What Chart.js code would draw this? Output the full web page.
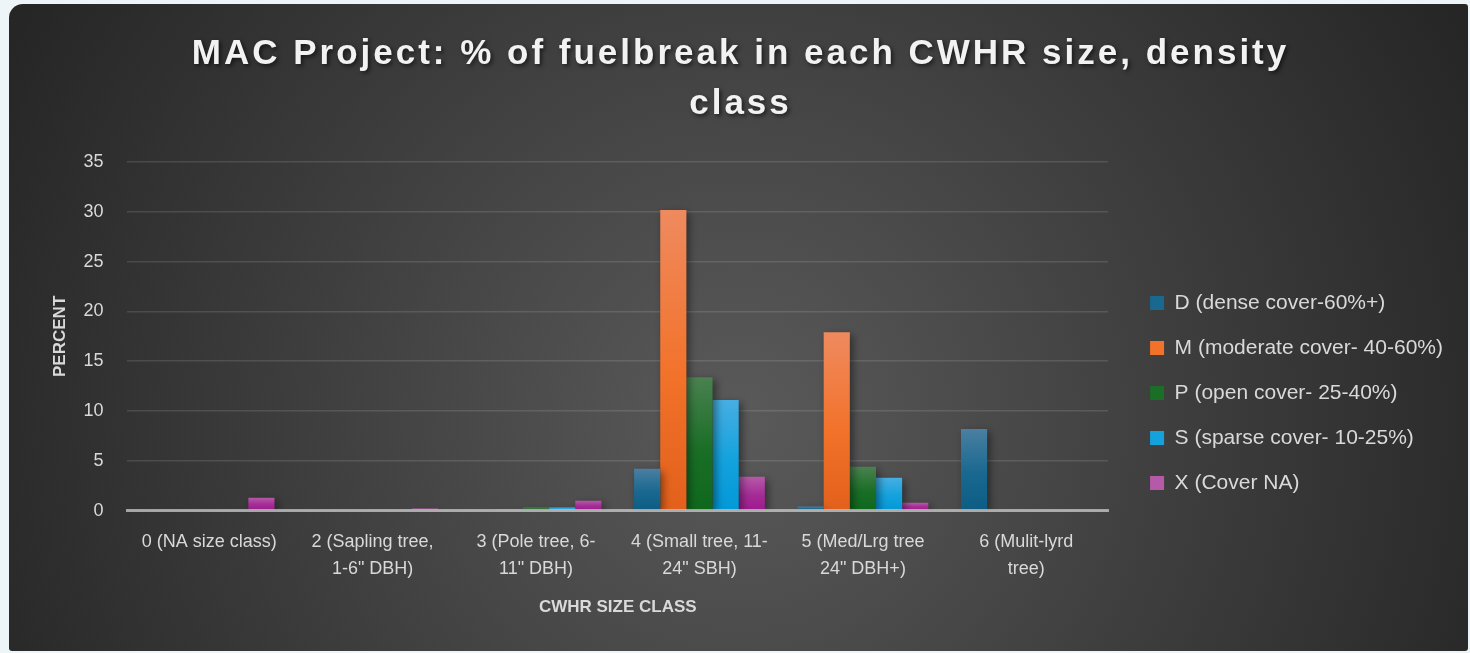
<!DOCTYPE html>
<html>
<head>
<meta charset="utf-8">
<script src="https://cdn.jsdelivr.net/npm/chart.js@4"></script>
<style>
html, body { margin: 0; padding: 0; background: #eef5f9; }
canvas { display: block; }
</style>
</head>
<body>
<canvas id="grafico" width="1470" height="653"></canvas>
<script>
const categorias = [
  "0 (NA size class)",
  ["2 (Sapling tree,", "1-6\" DBH)"],
  ["3 (Pole tree, 6-", "11\" DBH)"],
  ["4 (Small tree, 11-", "24\" SBH)"],
  ["5 (Med/Lrg tree", "24\" DBH+)"],
  ["6 (Mulit-lyrd", "tree)"]
];
const serieD = [0, 0, 0, 4.2, 0.4, 8.2];
const serieM = [0, 0, 0.1, 30.2, 17.9, 0];
const serieP = [0, 0, 0.3, 13.4, 4.4, 0];
const serieS = [0, 0, 0.3, 11.1, 3.3, 0];
const serieX = [1.3, 0.2, 1.0, 3.4, 0.8, 0];
const titulo = ["MAC Project: % of fuelbreak in each CWHR size, density", "class"];

const gris = "#d9d9d9";

function gradienteBarra(colores) {
  return (ctx) => {
    const chart = ctx.chart;
    if (!chart.chartArea || ctx.type !== "data") return colores[1];
    const y = chart.scales.y;
    const top = y.getPixelForValue(ctx.raw);
    const base = y.getPixelForValue(0);
    if (base - top < 1) return colores[1];
    const g = chart.ctx.createLinearGradient(0, top, 0, base);
    g.addColorStop(0, colores[0]);
    g.addColorStop(0.55, colores[1]);
    g.addColorStop(1, colores[2]);
    return g;
  };
}

// fondo oscuro con degradado radial
const fondo = {
  id: "fondo",
  afterLayout(chart) {
    // la leyenda de Excel queda más abajo y a la derecha
    const lg = chart.legend;
    if (lg) {
      lg.top += 82; lg.bottom += 82;
      lg.left += 18; lg.right += 18;
    }
  },
  beforeDraw(chart) {
    const ctx = chart.ctx;
    ctx.save();
    ctx.beginPath();
    ctx.roundRect(9, 4, 1459, 647, [14, 3, 3, 3]);
    const g = ctx.createRadialGradient(740, 420, 0, 740, 420, 820);
    g.addColorStop(0, "#5a5a5a");
    g.addColorStop(0.55, "#3d3d3d");
    g.addColorStop(1, "#262626");
    ctx.fillStyle = g;
    ctx.fill();
    ctx.restore();

    // espaciado y sombra del titulo
    const tb = chart.titleBlock;
    if (tb && !tb._envuelto) {
      const original = tb.draw.bind(tb);
      tb.draw = function () {
        const c = chart.ctx;
        c.save();
        c.letterSpacing = "3px";
        c.shadowColor = "rgba(0,0,0,0.6)";
        c.shadowBlur = 4;
        c.shadowOffsetX = 2;
        c.shadowOffsetY = 2;
        original();
        c.restore();
      };
      tb._envuelto = true;
    }
  }
};

const sombraBarras = {
  id: "sombraBarras",
  beforeDatasetsDraw(chart) {
    const ctx = chart.ctx;
    ctx.save();
    ctx.shadowColor = "rgba(0,0,0,0.45)";
    ctx.shadowBlur = 8;
    ctx.shadowOffsetX = 3;
    ctx.shadowOffsetY = 3;
  },
  afterDatasetsDraw(chart) {
    chart.ctx.restore();
  }
};

new Chart(document.getElementById("grafico"), {
  type: "bar",
  data: {
    labels: categorias,
    datasets: [
      { label: "D (dense cover-60%+)", data: serieD, backgroundColor: gradienteBarra(["#4a7fa2", "#19688f", "#0c5c84"]) },
      { label: "M (moderate cover- 40-60%)", data: serieM, backgroundColor: gradienteBarra(["#ef8a5f", "#f2722a", "#e2601b"]) },
      { label: "P (open cover- 25-40%)", data: serieP, backgroundColor: gradienteBarra(["#4a8150", "#1a6e26", "#0e681c"]) },
      { label: "S (sparse cover- 10-25%)", data: serieS, backgroundColor: gradienteBarra(["#47aee2", "#13a2dd", "#0398d8"]) },
      { label: "X (Cover NA)", data: serieX, backgroundColor: gradienteBarra(["#b55aa8", "#a42b96", "#9e1a8e"]) }
    ]
  },
  options: {
    responsive: false,
    animation: false,
    devicePixelRatio: 1,
    categoryPercentage: 0.8,
    barPercentage: 1.0,
    layout: { padding: { left: 46, right: 35, top: 0, bottom: 31 } },
    plugins: {
      title: {
        display: true,
        text: titulo,
        color: "#f2f2f2",
        font: { family: "Liberation Sans", size: 35, weight: "bold", lineHeight: 1.43 },
        padding: { top: 29, bottom: 33 }
      },
      legend: {
        position: "right",
        labels: {
          color: gris,
          font: { family: "Liberation Sans", size: 21 },
          boxWidth: 14,
          boxHeight: 14,
          padding: 24
        }
      },
      tooltip: { enabled: false }
    },
    scales: {
      x: {
        grid: { display: false },
        border: { display: true, color: "rgba(210,210,210,0.7)", width: 3, z: 1 },
        ticks: { color: gris, font: { family: "Liberation Sans", size: 18, lineHeight: 1.5 }, padding: 10, maxRotation: 0 },
        title: { display: true, text: "CWHR SIZE CLASS", color: gris, font: { family: "Liberation Sans", size: 17, weight: "bold" }, padding: { top: 5 } }
      },
      y: {
        min: 0,
        max: 35,
        afterFit: (escala) => { escala.width -= 24; },
        ticks: { stepSize: 5, color: gris, font: { family: "Liberation Sans", size: 18 }, padding: 24 },
        grid: { color: "rgba(255,255,255,0.12)", lineWidth: 1.5, drawTicks: false },
        border: { display: false },
        title: { display: true, text: "PERCENT", color: gris, font: { family: "Liberation Sans", size: 17, weight: "bold" }, padding: { top: 4, bottom: 13 } }
      }
    }
  },
  plugins: [fondo, sombraBarras]
});
</script>
</body>
</html>
